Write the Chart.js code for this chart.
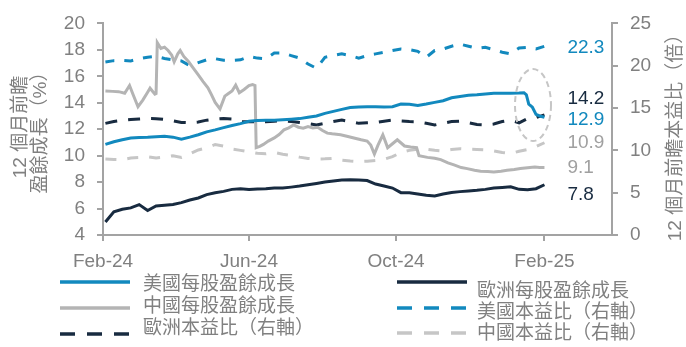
<!DOCTYPE html>
<html lang="zh-Hant">
<head>
<meta charset="UTF-8">
<title>12 個月前瞻盈餘成長與本益比</title>
<script src="https://cdn.jsdelivr.net/npm/chart.js"></script>
<style>
  html, body { margin: 0; padding: 0; background: #fff; }
  #wrap { width: 686px; height: 347px; }
</style>
</head>
<body>
<div id="wrap"><canvas id="epsChart" width="686" height="347"></canvas></div>
<script>
// x values are days counted from 2024-02-01
const tickDays = [0, 121, 243, 366];
const tickLabels = ['Feb-24', 'Jun-24', 'Oct-24', 'Feb-25'];

const weekDays = [2, 9, 16, 23, 30, 37, 44, 51, 58, 65, 72, 79, 86, 93, 100, 107, 114, 121, 128, 135,
  142, 149, 156, 163, 170, 177, 184, 191, 198, 205, 212, 219, 226, 233, 240, 247, 254, 261, 268, 275,
  282, 289, 296, 303, 310, 317, 324, 331, 338, 345, 352, 359, 366];

// 每股盈餘成長 (%), left axis
const usEpsDays = [2, 9, 16, 23, 30, 37, 44, 51, 58, 65, 72, 79, 86, 93, 100, 107, 114, 121, 128, 135,
  142, 149, 156, 163, 170, 177, 184, 191, 198, 205, 212, 219, 226, 233, 240, 247, 254, 261, 268, 275,
  282, 289, 296, 303, 310, 317, 324, 331, 338, 345, 349, 351, 353, 356, 359, 362, 366];
const usEps = [10.85, 11.05, 11.2, 11.34, 11.38, 11.39, 11.42, 11.46, 11.4, 11.25, 11.4, 11.58, 11.8, 11.95,
  12.12, 12.28, 12.42, 12.6, 12.65, 12.68, 12.68, 12.72, 12.76, 12.8, 12.9, 13.0, 13.2, 13.35, 13.5, 13.64,
  13.68, 13.7, 13.7, 13.68, 13.7, 13.9, 13.88, 13.8, 13.9, 14.03, 14.15, 14.38, 14.48, 14.56, 14.6, 14.66,
  14.72, 14.72, 14.72, 14.74, 14.76, 14.6, 13.9, 13.66, 13.12, 13.0, 12.9];

const euEps = [4.98, 5.75, 5.95, 6.05, 6.3, 5.85, 6.2, 6.25, 6.3, 6.45, 6.65, 6.8, 7.05, 7.2, 7.3, 7.45,
  7.5, 7.45, 7.48, 7.5, 7.55, 7.55, 7.62, 7.7, 7.8, 7.9, 8.0, 8.08, 8.15, 8.18, 8.15, 8.12, 7.85, 7.7,
  7.55, 7.2, 7.2, 7.1, 7.0, 6.95, 7.1, 7.22, 7.28, 7.33, 7.38, 7.45, 7.55, 7.6, 7.65, 7.45, 7.43, 7.5, 7.8];

const cnEpsDays = [2, 8, 13, 18, 22, 25, 29, 33, 37, 39, 43, 44, 45, 48, 51, 54, 57, 59, 62, 64,
  67, 71, 75, 79, 83, 87, 90, 93, 97, 101, 104, 107, 110, 113, 117, 121, 124, 126, 127, 130,
  133, 137, 142, 146, 150, 154, 158, 162, 166, 170, 174, 178, 182, 186, 190, 197, 203, 208, 214, 219,
  222, 225, 228, 232, 234, 236, 240, 244, 250, 255, 260, 262, 269, 275, 280, 286, 291, 297, 302, 308,
  313, 319, 324, 330, 335, 341, 346, 352, 358, 362, 366];
const cnEps = [14.89, 14.86, 14.84, 14.72, 15.3, 14.6, 13.7, 14.2, 14.8, 15.1, 14.65, 14.7, 18.55, 18.1,
  18.2, 17.95, 17.6, 17.1, 17.7, 17.95, 17.5, 17.1, 16.6, 16.1, 15.6, 15.13, 14.6, 14.03, 13.54, 14.5,
  14.7, 14.89, 15.33, 14.76, 15.0, 15.3, 15.38, 15.3, 10.6, 10.7, 10.85, 11.1, 11.34, 11.6, 11.95, 12.1,
  12.32, 12.15, 12.07, 12.2, 12.1, 12.15, 11.9, 11.7, 11.65, 11.58, 11.45, 11.34, 11.2, 11.1, 10.8, 10.12,
  10.8, 11.58, 11.1, 10.6, 10.9, 11.2, 10.73, 10.65, 10.6, 9.99, 9.87, 9.8, 9.7, 9.45, 9.3, 9.1, 9.02,
  8.9, 8.82, 8.8, 8.77, 8.82, 8.89, 8.95, 9.02, 9.08, 9.14, 9.1, 9.1];

// 本益比 (倍), right axis
const usPe = [20.45, 20.6, 20.64, 20.57, 20.83, 21.0, 21.1, 20.85, 20.7, 20.57, 20.0, 20.37, 20.7, 20.83,
  20.64, 20.64, 20.7, 21.1, 20.9, 20.83, 21.5, 21.5, 21.2, 20.9, 20.2, 19.7, 21.0, 21.2, 21.4, 21.2,
  20.9, 21.2, 21.4, 21.6, 21.8, 21.98, 21.9, 21.7, 21.0, 21.8, 21.98, 22.3, 22.55, 22.3, 22.05, 22.17,
  21.9, 21.6, 21.4, 22.1, 22.17, 21.98, 22.3];
const euPe = [13.19, 13.4, 13.55, 13.65, 13.7, 13.76, 13.74, 13.65, 13.5, 13.3, 13.26, 13.35, 13.57, 13.7,
  13.76, 13.7, 13.38, 13.38, 13.38, 13.38, 13.45, 13.49, 13.4, 13.3, 13.15, 13.0, 13.2, 13.4, 13.57, 13.4,
  13.19, 13.25, 13.3, 13.45, 13.57, 13.46, 13.4, 13.38, 13.2, 13.0, 13.2, 13.4, 13.46, 13.26, 13.05, 13.0,
  13.11, 13.4, 13.57, 13.26, 13.76, 13.88, 14.2];
const cnPe = [8.98, 8.92, 8.9, 9.1, 9.15, 9.25, 9.1, 9.2, 9.37, 9.17, 9.6, 10.05, 10.3, 10.7, 10.5, 10.15,
  10.0, 9.82, 9.65, 9.6, 9.75, 9.55, 9.4, 9.2, 9.05, 8.98, 9.0, 9.06, 8.85, 8.75, 8.68, 8.72, 8.8, 8.95,
  9.25, 9.75, 10.0, 10.13, 10.13, 10.0, 9.94, 10.1, 10.2, 10.13, 10.1, 10.05, 9.94, 9.75, 9.63, 9.9,
  10.1, 10.45, 10.9];

const BLUE = '#1289be';
const NAVY = '#182b40';
const GRAY = '#b4b4b4';
const LIGHT = '#c6c6c6';
const AXIS = '#a3a3a3';
const TEXT = '#808080';
const FONT = "'Liberation Sans', Arial, 'Noto Sans CJK TC', sans-serif";

function pts(xs, ys) {
  return xs.map((x, i) => ({ x: x, y: ys[i] }));
}

function line(label, data, axis, color, dash, endColor, endNudge) {
  return {
    label: label,
    data: data,
    yAxisID: axis,
    borderColor: color,
    backgroundColor: color,
    borderDash: dash,
    borderWidth: 3,
    pointRadius: 0,
    tension: 0,
    fill: false,
    endColor: endColor,
    endNudge: endNudge
  };
}

const datasets = [
  line('美國每股盈餘成長', pts(usEpsDays, usEps), 'y', BLUE, [], BLUE, 2),
  line('歐洲每股盈餘成長', pts(weekDays, euEps), 'y', NAVY, [], NAVY, 10),
  line('中國每股盈餘成長', pts(cnEpsDays, cnEps), 'y', GRAY, [], '#a0a0a0', 0),
  line('美國本益比（右軸）', pts(weekDays, usPe), 'y1', BLUE, [9, 10], BLUE, 2),
  line('歐洲本益比（右軸）', pts(weekDays, euPe), 'y1', NAVY, [12, 11], NAVY, -16),
  line('中國本益比（右軸）', pts(weekDays, cnPe), 'y1', LIGHT, [11, 11], '#a0a0a0', 0)
];

// legend layout: two columns, three rows
const legendSlots = [
  { ds: 0, x0: 60, x1: 130, lineY: 282, textX: 143, textY: 285 },
  { ds: 2, x0: 60, x1: 130, lineY: 308, textX: 143, textY: 307 },
  { ds: 4, x0: 60, x1: 130, lineY: 334, textX: 143, textY: 329 },
  { ds: 1, x0: 397, x1: 467, lineY: 282, textX: 477, textY: 292 },
  { ds: 3, x0: 397, x1: 467, lineY: 308, textX: 477, textY: 313 },
  { ds: 5, x0: 397, x1: 467, lineY: 333, textX: 477, textY: 334 }
];

function rotatedText(ctx, text, x, y) {
  ctx.save();
  ctx.translate(x, y);
  ctx.rotate(-Math.PI / 2);
  ctx.fillText(text, 0, 0);
  ctx.restore();
}

const extras = {
  id: 'extras',
  afterDatasetsDraw(chart) {
    const ctx = chart.ctx;
    const xs = chart.scales.x;
    const yl = chart.scales.y;

    // dashed ring around the latest drop in US earnings growth
    ctx.save();
    ctx.strokeStyle = LIGHT;
    ctx.lineWidth = 2;
    ctx.setLineDash([6, 4]);
    ctx.beginPath();
    ctx.ellipse(xs.getPixelForValue(356.5), yl.getPixelForValue(13.83), 18, 36, 0, 0, Math.PI * 2);
    ctx.stroke();
    ctx.restore();

    // latest value next to each line
    ctx.save();
    ctx.font = '19px ' + FONT;
    ctx.textAlign = 'left';
    ctx.textBaseline = 'middle';
    chart.data.datasets.forEach((ds, i) => {
      const pts = chart.getDatasetMeta(i).data;
      const last = pts[pts.length - 1];
      const v = ds.data[ds.data.length - 1].y;
      ctx.fillStyle = ds.endColor;
      ctx.fillText(v.toFixed(1), last.x + 23, last.y + ds.endNudge);
    });
    ctx.restore();
  },
  afterDraw(chart) {
    const ctx = chart.ctx;
    ctx.save();
    ctx.fillStyle = TEXT;
    ctx.font = '19px ' + FONT;
    ctx.textAlign = 'center';
    ctx.textBaseline = 'middle';
    rotatedText(ctx, '12 個月前瞻', 21, 127);
    rotatedText(ctx, '盈餘成長（%）', 41, 128);
    rotatedText(ctx, '12 個月前瞻本益比（倍）', 676, 133);

    ctx.textAlign = 'left';
    legendSlots.forEach(s => {
      const ds = chart.data.datasets[s.ds];
      ctx.save();
      ctx.strokeStyle = ds.borderColor;
      ctx.lineWidth = 3.5;
      ctx.setLineDash(ds.borderDash.length ? [15, 12] : []);
      ctx.beginPath();
      ctx.moveTo(s.x0, s.lineY);
      ctx.lineTo(s.x1, s.lineY);
      ctx.stroke();
      ctx.restore();
      ctx.fillText(ds.label, s.textX, s.textY);
    });
    ctx.restore();
  }
};

const tickFont = { family: FONT, size: 19 };

new Chart(document.getElementById('epsChart').getContext('2d'), {
  type: 'line',
  data: { datasets: datasets },
  options: {
    responsive: false,
    animation: false,
    events: [],
    layout: { padding: { top: 17, bottom: 77, left: 0, right: 0 } },
    plugins: { legend: { display: false }, tooltip: { enabled: false } },
    scales: {
      x: {
        type: 'linear',
        min: 0,
        max: 422,
        afterBuildTicks: s => { s.ticks = tickDays.map(v => ({ value: v })); },
        afterFit: s => { s.height = 35; },
        ticks: {
          autoSkip: false,
          maxRotation: 0,
          padding: 9,
          color: TEXT,
          font: tickFont,
          callback: v => tickLabels[tickDays.indexOf(v)]
        },
        grid: { drawOnChartArea: false, tickLength: 6, color: AXIS, lineWidth: 2 },
        border: { color: AXIS, width: 2 }
      },
      y: {
        position: 'left',
        min: 4,
        max: 20,
        afterFit: s => { s.width = 103; },
        ticks: { stepSize: 2, padding: 12, color: TEXT, font: tickFont },
        grid: { drawOnChartArea: false, tickLength: 6, color: AXIS, lineWidth: 2 },
        border: { color: AXIS, width: 2 }
      },
      y1: {
        position: 'right',
        min: 0,
        max: 25,
        afterFit: s => { s.width = 74; },
        ticks: { stepSize: 5, padding: 12, color: TEXT, font: tickFont },
        grid: { drawOnChartArea: false, tickLength: 6, color: AXIS, lineWidth: 2 },
        border: { color: AXIS, width: 2 }
      }
    }
  },
  plugins: [extras]
});
</script>
</body>
</html>
